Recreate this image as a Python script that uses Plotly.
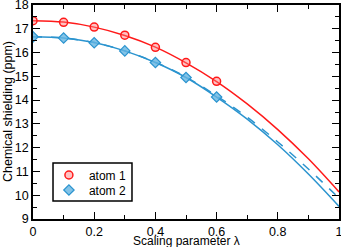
import plotly.graph_objects as go

# marker data
lam_pts = [0.0, 0.1, 0.2, 0.3, 0.4, 0.5, 0.6]
atom1_pts = [17.34, 17.27, 17.07, 16.73, 16.22, 15.58, 14.79]
atom2_pts = [16.66, 16.61, 16.41, 16.07, 15.58, 14.95, 14.13]

# fitted curves
lam_fit = [0.0, 0.1, 0.2, 0.3, 0.4, 0.5, 0.6, 0.7, 0.8, 0.9, 1.0]
atom1_fit = [17.34, 17.28, 17.07, 16.72, 16.23, 15.57, 14.78, 13.84, 12.76, 11.53, 10.14]
atom2_fit = [16.66, 16.61, 16.42, 16.07, 15.58, 14.95, 14.13, 13.20, 12.12, 10.89, 9.53]
atom2_fit_b = [16.66, 16.61, 16.42, 16.07, 15.59, 14.97, 14.18, 13.28, 12.24, 11.10, 9.88]

x_title = "Scaling parameter λ"
y_title = "Chemical shielding (ppm)"

RED = "#ff1a1a"
BLUE = "#2b94cf"
FONT = "Liberation Sans, Arial, sans-serif"

fig = go.Figure()
fig.add_trace(go.Scatter(x=lam_fit, y=atom2_fit_b, mode="lines", line=dict(color=BLUE, width=1.5, dash="dash", shape="spline"), showlegend=False))
fig.add_trace(go.Scatter(x=lam_fit, y=atom2_fit, mode="lines", line=dict(color=BLUE, width=1.5, shape="spline"), showlegend=False))
fig.add_trace(go.Scatter(x=lam_fit, y=atom1_fit, mode="lines", line=dict(color=RED, width=1.5, shape="spline"), showlegend=False))
fig.add_trace(go.Scatter(x=lam_pts, y=atom1_pts, mode="markers", name="atom 1", legend="legend",
                         marker=dict(symbol="circle", size=8, color="rgba(255,120,120,0.45)", line=dict(color=RED, width=1.5))))
fig.add_trace(go.Scatter(x=lam_pts, y=atom2_pts, mode="markers", name="atom 2", legend="legend2",
                         marker=dict(symbol="diamond", size=8, color="rgba(100,180,225,0.8)", line=dict(color=BLUE, width=1.2))))

axis_common = dict(showgrid=False, zeroline=False, showline=True, linecolor="black", linewidth=1.5,
                   mirror="allticks", ticks="inside", ticklen=7, tickwidth=1, tickcolor="black",
                   automargin=False, ticklabeloverflow="allow",
                   tickfont=dict(family=FONT, size=12.5, color="black"))
fig.update_xaxes(range=[0, 1], dtick=0.2, tickformat="~g",
                 minor=dict(ticks="inside", dtick=0.1, ticklen=4, tickcolor="black"),
                 **axis_common)
fig.update_yaxes(range=[9, 18], dtick=1,
                 minor=dict(ticks="inside", dtick=0.5, ticklen=4, tickcolor="black"),
                 **axis_common)
fig.add_annotation(text=x_title, xref="paper", yref="paper", x=0.5, y=0, yshift=-21.5,
                   xanchor="center", yanchor="middle", showarrow=False,
                   font=dict(family=FONT, size=12, color="black"))
fig.add_annotation(text=y_title, xref="paper", yref="paper", x=0, y=0.5, xshift=-25,
                   xanchor="center", yanchor="middle", textangle=-90, showarrow=False,
                   font=dict(family=FONT, size=12.5, color="black"))
# legend frame
fig.add_shape(type="rect", xref="paper", yref="paper", x0=0.0654, x1=0.3235, y0=0.0841, y1=0.2617,
              line=dict(color="black", width=1.5), fillcolor="white", layer="above")
leg_common = dict(x=0.052, xanchor="left", yanchor="middle", borderwidth=0,
                  bgcolor="rgba(0,0,0,0)", font=dict(family=FONT, size=12, color="black"),
                  tracegroupgap=0, itemwidth=30)
fig.update_layout(width=341, height=247, margin=dict(l=33, r=2, t=5, b=28),
                  plot_bgcolor="white", paper_bgcolor="white",
                  legend=dict(y=0.2056, **leg_common),
                  legend2=dict(y=0.1355, **leg_common))
fig.write_html("out.html", config={"displayModeBar": False},
               post_script="document.body.style.margin='0';document.body.style.padding='0';")
